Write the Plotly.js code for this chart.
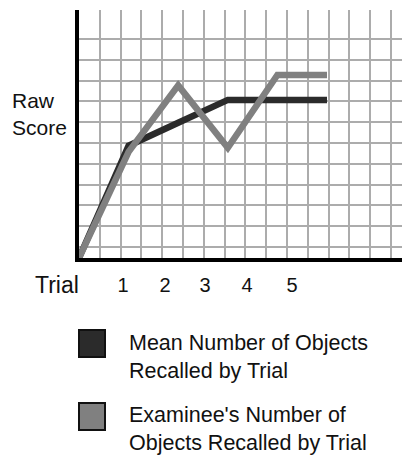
<!DOCTYPE html>
<html>
<head>
<meta charset="utf-8">
<script src="https://cdn.plot.ly/plotly-3.0.1.min.js"></script>
<style>html,body{margin:0;padding:0;background:#fff;}#chart{width:402px;height:462px;}</style>
</head>
<body>
<div id="chart"></div>
<script>
// ---- data ----
const trials = [0, 1, 2, 3, 4, 5];
const meanScores = [0, 5.4, 6.5, 7.6, 7.6, 7.6];
const examineeScores = [0, 5.1, 8.3, 5.3, 8.8, 8.8];
const tickLabels = ['1', '2', '3', '4', '5'];
const seriesNames = ['Mean Number of Objects<br>Recalled by Trial', "Examinee's Number of<br>Objects Recalled by Trial"];
const seriesColors = ['#2b2b2b', '#808080'];

// ---- layout helpers (positions/styles, not data) ----
const W = 402, H = 462;
const L = 79, T = 10, R = 0, B = 204;
const pw = W - L - R, ph = H - T - B;
const pxPerTrial = 49.6, pxPerGrid = 20.8;
const xRange = [0, pw / pxPerTrial];
const yRange = [0, ph / pxPerGrid];
const labelPx = [123, 165, 205, 247, 292];
const tickPos = labelPx.map(p => (p - L) / pxPerTrial);
const hGrid = [];
for (let k = 0; k <= 10; k++) hGrid.push(0.53 + k);
const px2x = p => (p - L) / pw;
const px2y = p => (H - B - p) / ph;
const font = 'Liberation Sans, Arial, sans-serif';

const traces = [meanScores, examineeScores].map((ys, i) => ({
  x: trials, y: ys, type: 'scatter', mode: 'lines',
  name: seriesNames[i], showlegend: false, hoverinfo: 'skip',
  line: {color: seriesColors[i], width: 6.5, shape: 'linear'}
}));

const legendSq = [[330, 357], [403, 430]];
const legendTxtMid = [357, 429];
const shapes = [], annotations = [];
seriesNames.forEach((n, i) => {
  shapes.push({type: 'rect', xref: 'paper', yref: 'paper',
    x0: px2x(79), x1: px2x(105), y0: px2y(legendSq[i][1]), y1: px2y(legendSq[i][0]),
    fillcolor: seriesColors[i], line: {color: '#111', width: 2}});
  annotations.push({xref: 'paper', yref: 'paper', x: px2x(127), y: px2y(legendTxtMid[i]),
    xanchor: 'left', yanchor: 'middle', align: 'left', showarrow: false, text: n,
    font: {family: font, size: 21.5, color: '#111'}});
});
annotations.push({xref: 'paper', yref: 'paper', x: px2x(10), y: px2y(114),
  xanchor: 'left', yanchor: 'middle', align: 'left', showarrow: false, text: 'Raw<br>Score',
  font: {family: font, size: 21, color: '#111'}});
annotations.push({xref: 'paper', yref: 'paper', x: px2x(33), y: px2y(285),
  xanchor: 'left', yanchor: 'middle', align: 'left', showarrow: false, text: 'Trial',
  font: {family: font, size: 23, color: '#111'}});

const layout = {
  width: W, height: H, margin: {l: L, r: R, t: T, b: B},
  paper_bgcolor: '#fff', plot_bgcolor: '#fff', showlegend: false,
  font: {family: font, size: 20, color: '#111'},
  xaxis: {range: xRange, fixedrange: true, showgrid: false, zeroline: false,
    showline: true, linecolor: '#000', linewidth: 3.5,
    tickmode: 'array', tickvals: tickPos, ticktext: tickLabels, ticks: '',
    ticklabelstandoff: 6,
    tickfont: {family: font, size: 20, color: '#111'},
    minor: {tickmode: 'linear', tick0: 0, dtick: pxPerGrid / pxPerTrial, showgrid: true,
      gridcolor: '#acacac', gridwidth: 2, ticks: ''}},
  yaxis: {range: yRange, fixedrange: true, showgrid: false, zeroline: false,
    showline: true, linecolor: '#000', linewidth: 4, showticklabels: false, ticks: '',
    tickmode: 'array', tickvals: [],
    minor: {tickmode: 'array', tickvals: hGrid, showgrid: true,
      gridcolor: '#acacac', gridwidth: 2, ticks: ''}},
  shapes: shapes, annotations: annotations
};

Plotly.newPlot('chart', traces, layout, {displayModeBar: false, staticPlot: true});
</script>
</body>
</html>
